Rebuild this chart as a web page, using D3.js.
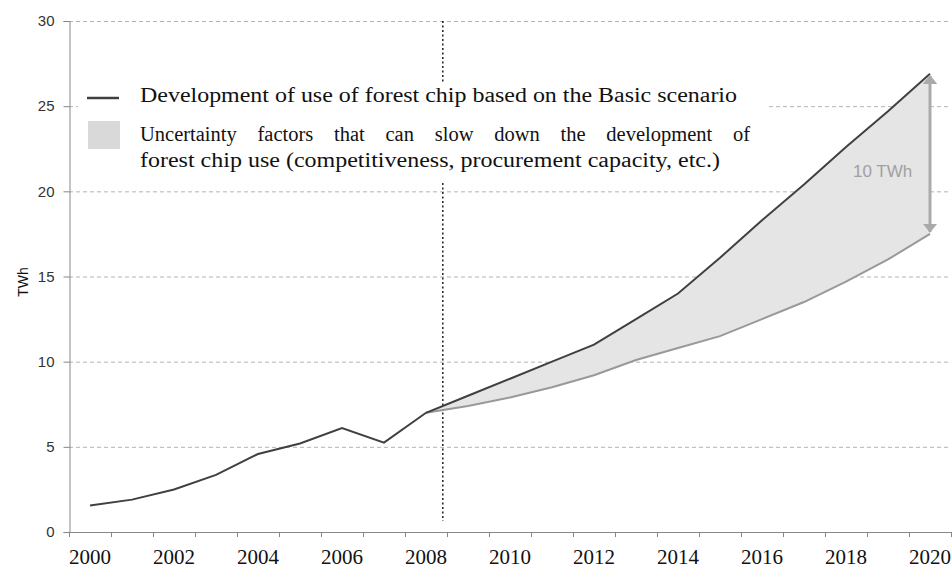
<!DOCTYPE html>
<html>
  <head>
    <title>Forest chip use scenario</title>
    <script src="https://cdn.jsdelivr.net/npm/d3@7"></script>
    <style>
      body { margin: 0; background: #fff; }
      .serif { font-family: "Liberation Serif", "Times New Roman", serif; }
      .sans { font-family: "Liberation Sans", Arial, sans-serif; }
    </style>
  </head>
  <body>
    <svg id="svg" width="952" height="568" xmlns="http://www.w3.org/2000/svg"></svg>
    <script>
      let svg = d3.select("svg");

      // Data
      let years = d3.range(2000, 2021);
      let history = [1.55, 1.9, 2.5, 3.35, 4.58, 5.2, 6.1, 5.25, 7.0];
      let basicYears = d3.range(2008, 2021);
      let basic = [7.0, 8.0, 9.0, 10.0, 11.0, 12.5, 14.0, 16.1, 18.3, 20.4, 22.6, 24.7, 26.9];
      let slowed = [7.0, 7.4, 7.9, 8.5, 9.2, 10.1, 10.8, 11.5, 12.5, 13.5, 14.7, 16.0, 17.5];
      let yTicks = [0, 5, 10, 15, 20, 25, 30];
      let xLabels = d3.range(2000, 2021, 2);
      let legendLines = [
        "Development of use of forest chip based on the Basic scenario",
        "Uncertainty factors that can slow down the development of",
        "forest chip use (competitiveness, procurement capacity, etc.)"
      ];

      // Scales
      let x = d3.scaleBand().domain(years).range([69, 951]).padding(0);
      let bw = x.bandwidth();
      let cx = (yr) => x(yr) + bw / 2;
      let y = d3.scaleLinear().domain([0, 30]).range([532, 21]);

      // Gridlines
      svg.append("g")
        .selectAll("line")
        .data(yTicks.filter((d) => d > 0))
        .enter()
        .append("line")
        .attr("x1", 69)
        .attr("x2", 951)
        .attr("y1", (d) => y(d) + 0.5)
        .attr("y2", (d) => y(d) + 0.5)
        .attr("stroke", "#b4b4b4")
        .attr("stroke-dasharray", "4,3");

      // Dotted line marking the start of the scenario
      let splitX = x(2008) + bw * 0.9;
      svg.append("line")
        .attr("x1", splitX)
        .attr("x2", splitX)
        .attr("y1", y(30))
        .attr("y2", 521)
        .attr("stroke", "#222")
        .attr("stroke-width", 1.5)
        .attr("stroke-dasharray", "2,2.5");

      // Uncertainty band
      let band = basicYears.map((yr, i) => ({ yr: yr, hi: basic[i], lo: slowed[i] }));
      svg.append("path")
        .datum(band)
        .attr("d", d3.area().x((d) => cx(d.yr)).y0((d) => y(d.lo)).y1((d) => y(d.hi)))
        .attr("fill", "#e5e5e5");

      // Lower line
      svg.append("path")
        .datum(band)
        .attr("d", d3.line().x((d) => cx(d.yr)).y((d) => y(d.lo)))
        .attr("fill", "none")
        .attr("stroke", "#999")
        .attr("stroke-width", 2);

      // Main line: history then Basic scenario
      let mainLine = history.map((v, i) => ({ yr: years[i], v: v }))
        .concat(basicYears.slice(1).map((yr, i) => ({ yr: yr, v: basic[i + 1] })));
      svg.append("path")
        .datum(mainLine)
        .attr("d", d3.line().x((d) => cx(d.yr)).y((d) => y(d.v)))
        .attr("fill", "none")
        .attr("stroke", "#404040")
        .attr("stroke-width", 2);

      // Double arrow for the 10 TWh gap
      let defs = svg.append("defs");
      defs.append("marker")
        .attr("id", "head")
        .attr("viewBox", "0 0 10 16")
        .attr("refX", 9)
        .attr("refY", 8)
        .attr("markerWidth", 3)
        .attr("markerHeight", 5)
        .attr("orient", "auto-start-reverse")
        .append("path")
        .attr("d", "M0,0L10,8L0,16Z")
        .attr("fill", "#aaa");
      let last = basicYears.length - 1;
      svg.append("line")
        .attr("x1", cx(2020))
        .attr("x2", cx(2020))
        .attr("y1", y(basic[last]) + 2)
        .attr("y2", y(slowed[last]) - 2)
        .attr("stroke", "#aaa")
        .attr("stroke-width", 3)
        .attr("marker-start", "url(#head)")
        .attr("marker-end", "url(#head)");
      svg.append("text")
        .attr("class", "sans")
        .attr("x", 853)
        .attr("y", 177)
        .attr("font-size", 17)
        .attr("fill", "#a0a0a0")
        .text("10 TWh");

      // Legend
      let lg = svg.append("g");
      lg.append("rect")
        .attr("x", 78)
        .attr("y", 82)
        .attr("width", 690)
        .attr("height", 100)
        .attr("fill", "#fff");
      lg.append("line")
        .attr("x1", 87)
        .attr("x2", 119)
        .attr("y1", 98)
        .attr("y2", 98)
        .attr("stroke", "#404040")
        .attr("stroke-width", 2.5);
      lg.append("rect")
        .attr("x", 88)
        .attr("y", 121)
        .attr("width", 32)
        .attr("height", 28)
        .attr("fill", "#d9d9d9");
      let lineY = [102, 140.5, 167];
      let lineW = [597, 610, 580];
      legendLines.forEach((t, i) => {
        let txt = lg.append("text")
          .attr("class", "serif")
          .attr("x", 140)
          .attr("y", lineY[i])
          .attr("font-size", 20.5)
          .attr("fill", "#111")
          .text(t);
        let w = txt.node().getComputedTextLength();
        if (i === 1) {
          let gaps = t.split(" ").length - 1;
          txt.attr("word-spacing", (lineW[i] - w) / gaps);
        } else {
          txt.attr("textLength", lineW[i]).attr("lengthAdjust", "spacingAndGlyphs");
        }
      });

      // Y axis
      let yAxis = svg.append("g")
        .attr("transform", "translate(69.5,0)")
        .call(d3.axisLeft(y).tickValues(yTicks).tickSize(6).tickPadding(9));
      yAxis.attr("font-family", null);
      yAxis.select(".domain").attr("stroke", "#888");
      yAxis.selectAll(".tick line").attr("stroke", "#888");
      yAxis.selectAll(".tick text")
        .attr("class", "sans")
        .attr("font-size", 15)
        .attr("fill", "#333");

      svg.append("text")
        .attr("class", "sans")
        .attr("transform", "translate(28,282) rotate(-90)")
        .attr("text-anchor", "middle")
        .attr("font-size", 14)
        .attr("fill", "#111")
        .text("TWh");

      // X axis: line, ticks at category boundaries, labels every 2 years
      let xg = svg.append("g");
      xg.append("line")
        .attr("x1", 69)
        .attr("x2", 951)
        .attr("y1", 532.5)
        .attr("y2", 532.5)
        .attr("stroke", "#888");
      xg.selectAll(".bt")
        .data(years.map((yr) => x(yr)).concat([x(2020) + bw]))
        .enter()
        .append("line")
        .attr("class", "bt")
        .attr("x1", (d) => d + 0.5)
        .attr("x2", (d) => d + 0.5)
        .attr("y1", 532)
        .attr("y2", 537)
        .attr("stroke", "#888");
      xg.selectAll(".lab")
        .data(xLabels)
        .enter()
        .append("text")
        .attr("class", "lab serif")
        .attr("x", (d) => cx(d))
        .attr("y", 564)
        .attr("text-anchor", "middle")
        .attr("font-size", 21)
        .attr("fill", "#111")
        .text((d) => d);
    </script>
  </body>
</html>
